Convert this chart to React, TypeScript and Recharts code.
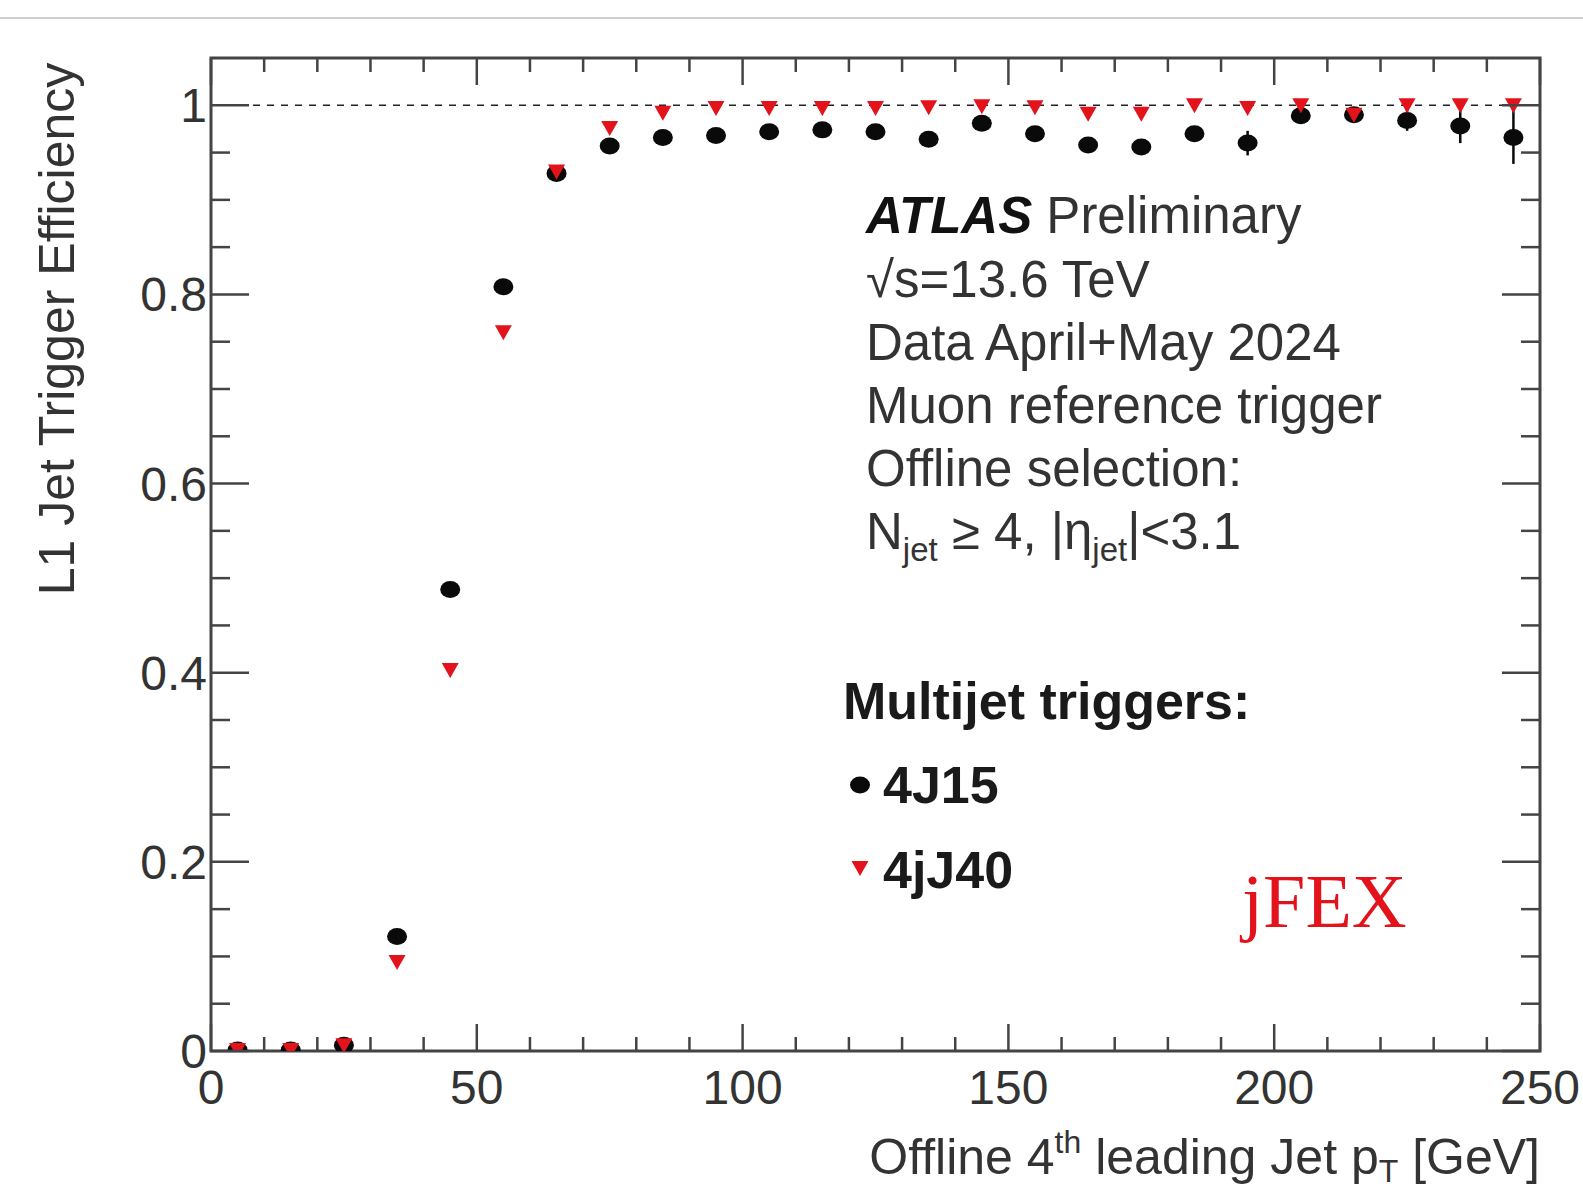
import React from "react";
import {
  ErrorBar,
  ReferenceArea,
  ReferenceLine,
  Scatter,
  ScatterChart,
  XAxis,
  YAxis
} from "recharts";

// bin centres in offline 4th leading jet pT [GeV]
const ptBins = [5, 15, 25, 35, 45, 55, 65, 75, 85, 95, 105, 115, 125, 135, 145, 155, 165, 175, 185, 195, 205, 215, 225, 235, 245];

const eff4J15 = [0.001, 0.001, 0.006, 0.121, 0.488, 0.808, 0.928, 0.957, 0.966, 0.968, 0.972, 0.974, 0.972, 0.964, 0.981, 0.970, 0.958, 0.956, 0.970, 0.960, 0.989, 0.990, 0.984, 0.978, 0.966];
const err4J15 = [0.001, 0.001, 0.002, 0.004, 0.005, 0.004, 0.003, 0.003, 0.003, 0.003, 0.003, 0.003, 0.003, 0.004, 0.004, 0.004, 0.005, 0.005, 0.008, 0.013, 0.006, 0.006, 0.011, 0.018, 0.028];

const eff4jJ40 = [0.001, 0.001, 0.006, 0.094, 0.403, 0.760, 0.930, 0.976, 0.992, 0.997, 0.997, 0.997, 0.997, 0.998, 0.999, 0.998, 0.991, 0.991, 1.0, 0.997, 1.0, 0.990, 1.0, 1.0, 1.0];
const err4jJ40 = [0.001, 0.001, 0.002, 0.004, 0.005, 0.004, 0.003, 0.002, 0.002, 0.002, 0.002, 0.002, 0.002, 0.002, 0.002, 0.002, 0.003, 0.003, 0.003, 0.004, 0.003, 0.004, 0.004, 0.005, 0.006];

const xTicks = [0, 10, 20, 30, 40, 50, 60, 70, 80, 90, 100, 110, 120, 130, 140, 150, 160, 170, 180, 190, 200, 210, 220, 230, 240, 250];
const yTicks = [0, 0.05, 0.1, 0.15, 0.2, 0.25, 0.3, 0.35, 0.4, 0.45, 0.5, 0.55, 0.6, 0.65, 0.7, 0.75, 0.8, 0.85, 0.9, 0.95, 1.0];

const infoLines = [
  "√s=13.6 TeV",
  "Data April+May 2024",
  "Muon reference trigger",
  "Offline selection:"
];

const W = 1583;
const H = 1191;
const PLOT_TOP = 58;
const PLOT_LEFT = 211;
const PLOT_RIGHT = 1540;
const FONT = "'Liberation Sans', Arial, Helvetica, sans-serif";
const AXIS = "#444";
const RED = "#e3131b";

const data4J15 = ptBins.map((x, i) => ({ x, y: eff4J15[i], err: err4J15[i] }));
const data4jJ40 = ptBins.map((x, i) => ({ x, y: eff4jJ40[i], err: err4jJ40[i] }));

function Dot({ cx, cy }: any) {
  return <ellipse cx={cx} cy={cy} rx={10} ry={8.5} fill="#0a0a0a" />;
}

function Tri({ cx, cy }: any) {
  return <path d={`M${cx - 8.5},${cy - 7} L${cx + 8.5},${cy - 7} L${cx},${cy + 8} Z`} fill={RED} />;
}

function XTick({ x, y, payload }: any) {
  const v = payload.value;
  const major = v % 50 === 0;
  const len = major ? 27 : 14;
  return (
    <g>
      <line x1={x} x2={x} y1={y} y2={y - len} stroke={AXIS} strokeWidth={2.5} />
      <line x1={x} x2={x} y1={PLOT_TOP} y2={PLOT_TOP + len} stroke={AXIS} strokeWidth={2.5} />
      {major && (
        <text x={x} y={y + 53} textAnchor="middle" fontSize={48} fontFamily={FONT} fill="#333">
          {v}
        </text>
      )}
    </g>
  );
}

function YTick({ x, y, payload }: any) {
  const v = payload.value;
  const major = Math.abs(v * 5 - Math.round(v * 5)) < 1e-6;
  const len = major ? 38 : 19;
  const label = v === 0 ? "0" : v === 1 ? "1" : v.toFixed(1);
  return (
    <g>
      <line x1={x} x2={x + len} y1={y} y2={y} stroke={AXIS} strokeWidth={2.5} />
      <line x1={PLOT_RIGHT} x2={PLOT_RIGHT - len} y1={y} y2={y} stroke={AXIS} strokeWidth={2.5} />
      {major && (
        <text x={x - 4} y={y + 17} textAnchor="end" fontSize={48} fontFamily={FONT} fill="#333">
          {label}
        </text>
      )}
    </g>
  );
}

function Annotations() {
  return (
    <svg width={W} height={H} style={{ position: "absolute", left: 0, top: 0, pointerEvents: "none" }}>
      <text
        transform="translate(74, 329) rotate(-90)"
        textAnchor="middle"
        fontSize={50}
        fontFamily={FONT}
        fill="#333"
      >
        L1 Jet Trigger Efficiency
      </text>
      <text x={PLOT_RIGHT} y={1174} textAnchor="end" fontSize={50} fontFamily={FONT} fill="#333">
        Offline 4<tspan dy={-21} fontSize={32}>th</tspan>
        <tspan dy={21}> leading Jet p</tspan>
        <tspan dy={8} fontSize={32}>T</tspan>
        <tspan dy={-8}> [GeV]</tspan>
      </text>

      <text x={866} y={233} fontSize={51} fontFamily={FONT} fill="#333">
        <tspan fontWeight="bold" fontStyle="italic" fill="#111">ATLAS</tspan> Preliminary
      </text>
      {infoLines.map((t, i) => (
        <text key={t} x={866} y={297 + i * 63} fontSize={51} fontFamily={FONT} fill="#333">
          {t}
        </text>
      ))}
      <text x={866} y={549} fontSize={51} fontFamily={FONT} fill="#333">
        N<tspan dy={12} fontSize={33}>jet</tspan>
        <tspan dy={-12}> ≥ 4, |η</tspan>
        <tspan dy={12} fontSize={33}>jet</tspan>
        <tspan dy={-12}>|&lt;3.1</tspan>
      </text>

      <text x={843} y={719} fontSize={52} fontWeight="bold" fontFamily={FONT} fill="#1a1a1a">
        Multijet triggers:
      </text>
      <Dot cx={860} cy={785} />
      <text x={883} y={803} fontSize={52} fontWeight="bold" fontFamily={FONT} fill="#1a1a1a">
        4J15
      </text>
      <Tri cx={860} cy={868} />
      <text x={883} y={888} fontSize={52} fontWeight="bold" fontFamily={FONT} fill="#1a1a1a">
        4jJ40
      </text>

      <text x={1242} y={927} fontSize={76} fontFamily="'Liberation Serif', 'Times New Roman', serif" fill={RED}>
        jFEX
      </text>
    </svg>
  );
}

export default function App() {
  return (
    <div style={{ position: "absolute", left: 0, top: 0, width: W, height: H, background: "#fff" }}>
      <div style={{ position: "absolute", left: 0, top: 17, width: W, height: 2, background: "#cfcfcf" }} />
      <ScatterChart width={W} height={H} margin={{ top: PLOT_TOP, right: W - PLOT_RIGHT, bottom: 0, left: 0 }}>
        <XAxis
          type="number"
          dataKey="x"
          domain={[0, 250]}
          ticks={xTicks}
          interval={0}
          height={140}
          tickSize={0}
          tickMargin={0}
          tickLine={false}
          axisLine={false}
          tick={<XTick />}
          allowDataOverflow
        />
        <YAxis
          type="number"
          dataKey="y"
          domain={[0, 1.05]}
          ticks={yTicks}
          interval={0}
          width={PLOT_LEFT}
          tickSize={0}
          tickMargin={0}
          tickLine={false}
          axisLine={false}
          tick={<YTick />}
          allowDataOverflow
        />
        <ReferenceArea x1={0} x2={250} y1={0} y2={1.05} fill="none" stroke={AXIS} strokeWidth={3} ifOverflow="extendDomain" />
        <ReferenceLine y={1} stroke="#222" strokeWidth={1.6} strokeDasharray="7 7" />
        <Scatter data={data4J15} shape={<Dot />} isAnimationActive={false}>
          <ErrorBar dataKey="err" direction="y" width={0} stroke="#0a0a0a" strokeWidth={2.5} />
        </Scatter>
        <Scatter data={data4jJ40} shape={<Tri />} isAnimationActive={false}>
          <ErrorBar dataKey="err" direction="y" width={0} stroke={RED} strokeWidth={2} />
        </Scatter>
      </ScatterChart>
      <Annotations />
    </div>
  );
}
